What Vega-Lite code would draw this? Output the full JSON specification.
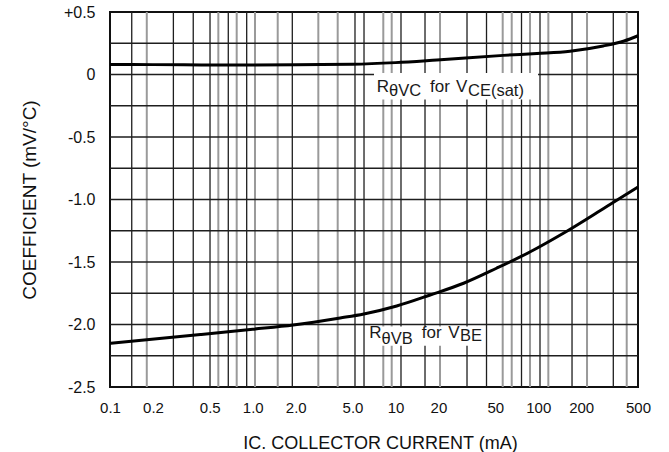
{
  "$schema": "https://vega.github.io/schema/vega-lite/v6.json",
  "width": 528,
  "height": 375,
  "autosize": {"type": "none"},
  "padding": {"left": 110, "top": 12, "right": 31, "bottom": 65},
  "background": "white",
  "config": {
    "font": "Liberation Sans",
    "view": {"stroke": "#111111", "strokeWidth": 2},
    "axis": {
      "labelFont": "Liberation Sans",
      "titleFont": "Liberation Sans",
      "labelColor": "#111111",
      "titleColor": "#111111",
      "titleFontWeight": "normal",
      "ticks": false,
      "domain": false,
      "grid": false
    }
  },
  "datasets": {
    "vceSat": [
      {"current": 0.1, "coefficient": 0.08},
      {"current": 0.2, "coefficient": 0.079},
      {"current": 0.5, "coefficient": 0.076},
      {"current": 1, "coefficient": 0.076},
      {"current": 2, "coefficient": 0.078},
      {"current": 5, "coefficient": 0.082},
      {"current": 10, "coefficient": 0.095},
      {"current": 19.5, "coefficient": 0.116},
      {"current": 57, "coefficient": 0.153},
      {"current": 98, "coefficient": 0.168},
      {"current": 167, "coefficient": 0.186},
      {"current": 285, "coefficient": 0.228},
      {"current": 400, "coefficient": 0.268},
      {"current": 500, "coefficient": 0.31}
    ],
    "vbe": [
      {"current": 0.1, "coefficient": -2.15},
      {"current": 0.43, "coefficient": -2.08},
      {"current": 1, "coefficient": -2.038},
      {"current": 1.92, "coefficient": -2.004},
      {"current": 4.1, "coefficient": -1.948},
      {"current": 6, "coefficient": -1.916},
      {"current": 10.2, "coefficient": -1.852},
      {"current": 17.5, "coefficient": -1.764},
      {"current": 30, "coefficient": -1.67},
      {"current": 51, "coefficient": -1.55},
      {"current": 88, "coefficient": -1.418},
      {"current": 150, "coefficient": -1.27},
      {"current": 300, "coefficient": -1.058},
      {"current": 500, "coefficient": -0.9}
    ],
    "levels": [
      {"coefficient": 0.25}, {"coefficient": 0}, {"coefficient": -0.25}, {"coefficient": -0.5},
      {"coefficient": -0.75}, {"coefficient": -1}, {"coefficient": -1.25}, {"coefficient": -1.5},
      {"coefficient": -1.75}, {"coefficient": -2}, {"coefficient": -2.25}
    ],
    "majorGrid": [
      {"current": 0.142}, {"current": 0.278}, {"current": 0.383}, {"current": 0.502},
      {"current": 0.674}, {"current": 0.907}, {"current": 1.893}, {"current": 5.204},
      {"current": 6.019}, {"current": 10.93}, {"current": 16.1}, {"current": 31.7},
      {"current": 43.42}, {"current": 76.36}, {"current": 102.9}, {"current": 172.5},
      {"current": 335.7}
    ],
    "minorGrid": [
      {"current": 0.181}, {"current": 0.574}, {"current": 0.772}, {"current": 1.037},
      {"current": 1.496}, {"current": 2.88}, {"current": 3.937}, {"current": 8.215},
      {"current": 9.408}, {"current": 20.51}, {"current": 56.38}, {"current": 65.2},
      {"current": 87.59}, {"current": 117.7}, {"current": 219.7}, {"current": 416.8}
    ],
    "labelBoxes": [
      {"from": 7.07, "to": 99.7, "top": 0.012, "bottom": -0.2},
      {"from": 6.2, "to": 42.4, "top": -2.015, "bottom": -2.17}
    ],
    "labelText": [
      {"current": 7.386, "coefficient": -0.138, "text": "R"},
      {"current": 17.45, "coefficient": -0.138, "text": "for"},
      {"current": 26.55, "coefficient": -0.138, "text": "V"},
      {"current": 6.556, "coefficient": -2.11, "text": "R"},
      {"current": 15.27, "coefficient": -2.11, "text": "for"},
      {"current": 23.45, "coefficient": -2.11, "text": "V"}
    ],
    "labelSubscripts": [
      {"current": 9.01, "coefficient": -0.172, "text": "θVC"},
      {"current": 32.2, "coefficient": -0.172, "text": "CE(sat)"},
      {"current": 7.98, "coefficient": -2.156, "text": "θVB"},
      {"current": 28.3, "coefficient": -2.128, "text": "BE"}
    ]
  },
  "layer": [
    {
      "data": {"name": "minorGrid"},
      "mark": {"type": "rule", "color": "#9a9a9a", "strokeWidth": 2},
      "encoding": {
        "x": {
          "field": "current",
          "type": "quantitative",
          "scale": {"type": "log", "domain": [0.1, 500], "nice": false},
          "axis": {
            "title": "IC. COLLECTOR CURRENT (mA)",
            "titleFontSize": 18,
            "titlePadding": 19,
            "titleX": 270,
            "values": [0.1, 0.2, 0.5, 1, 2, 5, 10, 20, 50, 100, 200, 500],
            "labelExpr": "datum.value < 5.5 ? format(datum.value, '.1f') : format(datum.value, 'd')",
            "labelFontSize": 15,
            "labelPadding": 13,
            "labelFlush": false,
            "labelOverlap": false
          }
        }
      }
    },
    {
      "data": {"name": "majorGrid"},
      "mark": {"type": "rule", "color": "#1e1e1e", "strokeWidth": 1.3},
      "encoding": {
        "x": {"field": "current", "type": "quantitative"}
      }
    },
    {
      "data": {"name": "levels"},
      "mark": {"type": "rule", "color": "#1e1e1e", "strokeWidth": 1.4},
      "encoding": {
        "y": {
          "field": "coefficient",
          "type": "quantitative",
          "scale": {"domain": [-2.5, 0.5], "nice": false, "zero": false},
          "axis": {
            "title": "COEFFICIENT (mV/°C)",
            "titleFontSize": 19,
            "titlePadding": 24,
            "values": [-2.5, -2, -1.5, -1, -0.5, 0, 0.5],
            "labelExpr": "datum.value == 0.5 ? '+0.5' : datum.value == 0 ? '0' : '-' + format(abs(datum.value), '.1f')",
            "labelFontSize": 16,
            "labelPadding": 15,
            "labelFlush": false,
            "labelOverlap": false
          }
        }
      }
    },
    {
      "data": {"name": "labelBoxes"},
      "mark": {"type": "rect", "fill": "white", "stroke": null},
      "encoding": {
        "x": {"field": "from", "type": "quantitative"},
        "x2": {"field": "to"},
        "y": {"field": "top", "type": "quantitative"},
        "y2": {"field": "bottom"}
      }
    },
    {
      "data": {"name": "vceSat"},
      "mark": {"type": "line", "color": "#000000", "strokeWidth": 3, "interpolate": "monotone"},
      "encoding": {
        "x": {"field": "current", "type": "quantitative"},
        "y": {"field": "coefficient", "type": "quantitative"}
      }
    },
    {
      "data": {"name": "vbe"},
      "mark": {"type": "line", "color": "#000000", "strokeWidth": 3, "interpolate": "monotone"},
      "encoding": {
        "x": {"field": "current", "type": "quantitative"},
        "y": {"field": "coefficient", "type": "quantitative"}
      }
    },
    {
      "data": {"name": "labelText"},
      "mark": {"type": "text", "align": "left", "baseline": "alphabetic", "fontSize": 17, "color": "#1a1a1a"},
      "encoding": {
        "x": {"field": "current", "type": "quantitative"},
        "y": {"field": "coefficient", "type": "quantitative"},
        "text": {"field": "text"}
      }
    },
    {
      "data": {"name": "labelSubscripts"},
      "mark": {"type": "text", "align": "left", "baseline": "alphabetic", "fontSize": 16.5, "color": "#1a1a1a"},
      "encoding": {
        "x": {"field": "current", "type": "quantitative"},
        "y": {"field": "coefficient", "type": "quantitative"},
        "text": {"field": "text"}
      }
    }
  ]
}
